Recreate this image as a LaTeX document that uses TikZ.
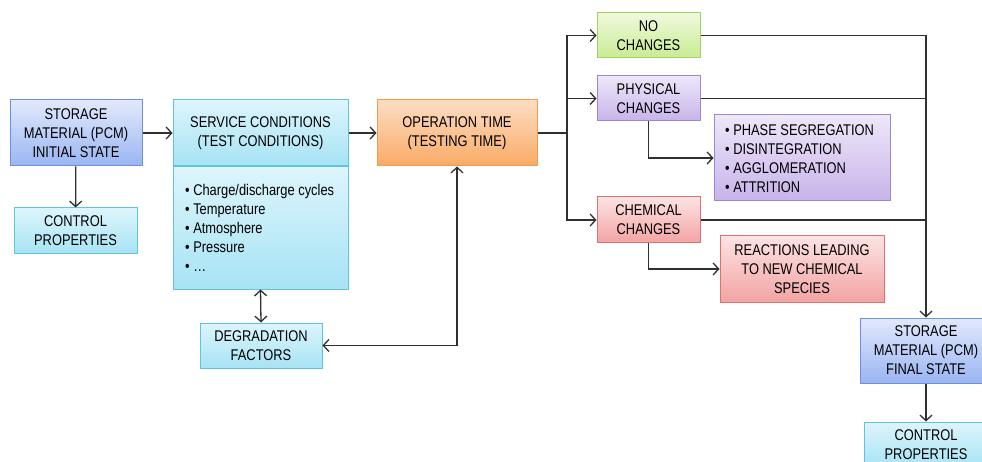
\documentclass[tikz,border=0pt]{standalone}
\usepackage{fontspec}
\setmainfont{Liberation Sans}[FakeStretch=0.83]
\usetikzlibrary{arrows.meta,shadings}
\definecolor{lnc}{HTML}{303030}
\definecolor{blT}{HTML}{E2E9FC}\definecolor{blB}{HTML}{9AB5F2}\definecolor{blD}{HTML}{6E90DA}
\definecolor{cyT}{HTML}{DDF5FC}\definecolor{cyB}{HTML}{A6E3F4}\definecolor{cyD}{HTML}{62C3DF}
\definecolor{orT}{HTML}{FDDDC2}\definecolor{orB}{HTML}{F9AA66}\definecolor{orD}{HTML}{F29B4C}
\definecolor{grT}{HTML}{EFF9DD}\definecolor{grB}{HTML}{C8EC92}\definecolor{grD}{HTML}{9FD35E}
\definecolor{puT}{HTML}{EEE7F9}\definecolor{puB}{HTML}{C7B3EA}\definecolor{puD}{HTML}{9F86D4}
\definecolor{rdT}{HTML}{FDE3E3}\definecolor{rdB}{HTML}{F2A3A3}\definecolor{rdD}{HTML}{E07070}
\tikzset{
  box/.style={draw, line width=1pt, inner sep=0pt, align=center,
    font=\fontsize{15.5}{19}\selectfont, text=black},
  bluebox/.style={box, draw=blD, top color=blT, bottom color=blB},
  cyanbox/.style={box, draw=cyD, top color=cyT, bottom color=cyB},
  orangebox/.style={box, draw=orD, top color=orT, bottom color=orB},
  greenbox/.style={box, draw=grD, top color=grT, bottom color=grB},
  purplebox/.style={box, draw=puD, top color=puT, bottom color=puB},
  redbox/.style={box, draw=rdD, top color=rdT, bottom color=rdB},
  listtext/.style={inner sep=0pt, align=left, anchor=west,
    font=\fontsize{15.5}{19}\selectfont},
  conn/.style={draw=lnc, line width=1.3pt},
  arr/.style={conn, -{Straight Barb[length=5.5pt,width=12pt,line width=1.3pt]}},
  darr/.style={conn, {Straight Barb[length=5.5pt,width=12pt,line width=1.3pt]}-{Straight Barb[length=5.5pt,width=12pt,line width=1.3pt]}}
}
\begin{document}
\begin{tikzpicture}[x=1pt,y=-1pt]
\useasboundingbox (0,0) rectangle (982,462);
\fill[white] (0,0) rectangle (982,462);
% left column
\node[bluebox, minimum width=132pt, minimum height=66pt] (init) at (76,133) {STORAGE\\MATERIAL (PCM)\\INITIAL STATE};
\node[cyanbox, minimum width=123pt, minimum height=46pt] (ctrla) at (75.5,231) {CONTROL\\PROPERTIES};
% service conditions
\node[cyanbox, minimum width=175pt, minimum height=66pt] (serv) at (260.5,133) {SERVICE CONDITIONS\\(TEST CONDITIONS)};
\node[cyanbox, minimum width=175pt, minimum height=122pt, anchor=north] (servl) at (serv.south) {};
\node[listtext] (servt) at (185,228) {\textbullet\ Charge/discharge cycles\\\textbullet\ Temperature\\\textbullet\ Atmosphere\\\textbullet\ Pressure\\\textbullet\ \dots};
\node[cyanbox, minimum width=122pt, minimum height=45pt] (deg) at (261,345.5) {DEGRADATION\\FACTORS};
% operation
\node[orangebox, minimum width=160pt, minimum height=66pt] (op) at (457,133) {OPERATION TIME\\(TESTING TIME)};
% changes
\node[greenbox, minimum width=103pt, minimum height=45pt] (noch) at (648.5,35.5) {NO\\CHANGES};
\node[purplebox, minimum width=103pt, minimum height=45pt] (phys) at (648.5,98.5) {PHYSICAL\\CHANGES};
\node[redbox, minimum width=103pt, minimum height=46pt] (chem) at (648.5,220) {CHEMICAL\\CHANGES};
\node[purplebox, minimum width=176pt, minimum height=86pt] (physl) at (802,158) {};
\node[listtext] (physt) at (725,158.5) {\textbullet\ PHASE SEGREGATION\\\textbullet\ DISINTEGRATION\\\textbullet\ AGGLOMERATION\\\textbullet\ ATTRITION};
\node[redbox, minimum width=164pt, minimum height=66pt] (react) at (802,269) {REACTIONS LEADING\\TO NEW CHEMICAL\\SPECIES};
% final
\node[bluebox, minimum width=132pt, minimum height=65pt] (fin) at (926,350.5) {STORAGE\\MATERIAL (PCM)\\FINAL STATE};
\node[cyanbox, minimum width=124pt, minimum height=46pt] (ctrlb) at (926,445) {CONTROL\\PROPERTIES};
% connectors
\coordinate (split) at (567,133);
\draw[arr] (init) -- (serv);
\draw[arr] (init) -- (ctrla);
\draw[arr] (serv) -- (op);
\draw[darr] (servl.south) -- (deg.north);
\draw[darr] (deg.east) -| (op.south);
\draw[conn] (op.east) -- (split);
\draw[arr] (split) |- (noch.west);
\draw[arr] (split) |- (phys.west);
\draw[arr] (split) |- (chem.west);
\draw[arr] (phys.south) |- (physl.west);
\draw[arr] (chem.south) |- (react.west);
\draw[arr] (noch.east) -| (fin.north);
\draw[conn] (phys.east) -- (phys.east -| fin.north);
\draw[conn] (chem.east) -- (chem.east -| fin.north);
\draw[arr] (fin) -- (ctrlb);
\end{tikzpicture}
\end{document}
